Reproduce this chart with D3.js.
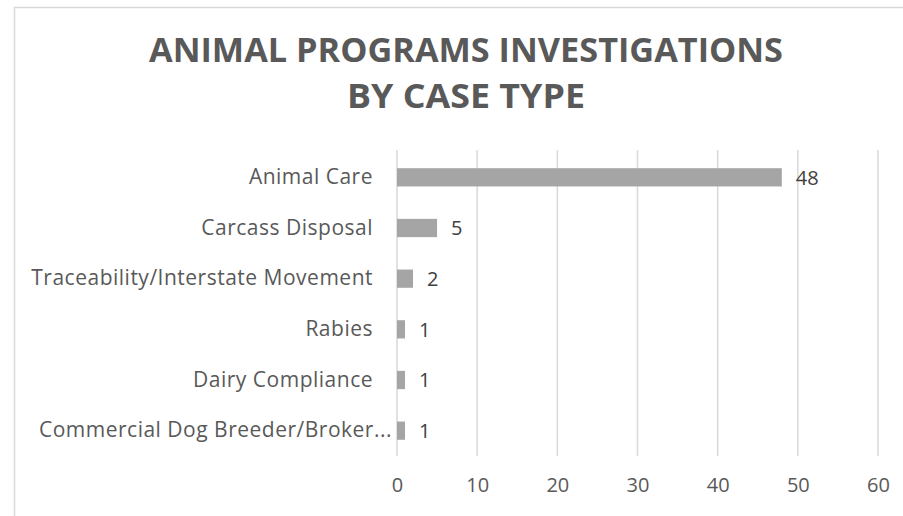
<!DOCTYPE html>
<html>
<head>
<meta charset="utf-8">
<script src="https://cdn.jsdelivr.net/npm/d3@7"></script>
<style>
  body { margin: 0; background: #fff; }
  svg { display: block; font-family: 'Open Sans', Roboto, sans-serif; }
</style>
</head>
<body>
<svg id="chart" width="903" height="516"></svg>
<script>
'use strict';

const categories = [
  'Animal Care',
  'Carcass Disposal',
  'Traceability/Interstate Movement',
  'Rabies',
  'Dairy Compliance',
  'Commercial Dog Breeder/Broker...',
];
const counts = [48, 5, 2, 1, 1, 1];
const xTicks = [0, 10, 20, 30, 40, 50, 60];
const titleLines = ['ANIMAL PROGRAMS INVESTIGATIONS', 'BY CASE TYPE'];

const svg = d3.select('#chart');

// chart area border (runs off the right/bottom edge)
svg.append('rect')
  .attr('x', 14.5).attr('y', 7.5)
  .attr('width', 1000).attr('height', 1000)
  .attr('fill', '#fff')
  .attr('stroke', '#d9d9d9')
  .attr('stroke-width', 1.5);

const plot = { left: 397, right: 878, top: 152, bottom: 456 };

const x = d3.scaleLinear()
  .domain([0, 60])
  .range([plot.left, plot.right]);

const y = d3.scaleBand()
  .domain(categories)
  .range([plot.top, plot.bottom])
  .paddingInner(0.64)
  .paddingOuter(0.32);

// title
const title = svg.append('g')
  .attr('fill', '#595959')
  .attr('font-weight', 700)
  .attr('font-size', 34)
  .attr('text-anchor', 'middle');

title.selectAll('text')
  .data(titleLines)
  .enter()
  .append('text')
  .attr('x', 466)
  .attr('y', (d, i) => 62 + i * 46)
  .attr('textLength', (d, i) => (i === 0 ? 634 : 238))
  .attr('lengthAdjust', 'spacingAndGlyphs')
  .text(d => d);

// vertical gridlines
svg.append('g')
  .selectAll('line')
  .data(xTicks)
  .enter()
  .append('line')
  .attr('x1', d => x(d))
  .attr('x2', d => x(d))
  .attr('y1', plot.top - 2)
  .attr('y2', plot.bottom)
  .attr('stroke', '#d9d9d9')
  .attr('stroke-width', 1.5);

// x axis labels
const xAxis = svg.append('g')
  .attr('transform', `translate(0, ${plot.bottom})`)
  .call(d3.axisBottom(x).tickValues(xTicks).tickSize(0).tickPadding(22));

xAxis.select('.domain').remove();
xAxis.selectAll('text')
  .attr('fill', '#595959')
  .attr('font-size', 20)
  .attr('font-family', "'Open Sans', Roboto, sans-serif");

// category labels
const yAxis = svg.append('g')
  .attr('transform', `translate(${plot.left}, 0)`)
  .call(d3.axisLeft(y).tickSize(0).tickPadding(24));

yAxis.select('.domain').remove();
yAxis.selectAll('text')
  .attr('fill', '#595959')
  .attr('font-size', 21)
  .attr('letter-spacing', 0.5)
  .attr('font-family', "'Open Sans', Roboto, sans-serif")
  .attr('dx', d => (d.endsWith('...') ? 19 : 0));

// bars
const rows = categories.map((c, i) => ({ cat: c, val: counts[i] }));

svg.append('g')
  .selectAll('rect')
  .data(rows)
  .enter()
  .append('rect')
  .attr('x', x(0))
  .attr('y', d => y(d.cat))
  .attr('width', d => x(d.val) - x(0))
  .attr('height', y.bandwidth())
  .attr('fill', '#a5a5a5');

// value labels
svg.append('g')
  .selectAll('text')
  .data(rows)
  .enter()
  .append('text')
  .attr('x', d => x(d.val) + 14)
  .attr('y', d => y(d.cat) + y.bandwidth() / 2)
  .attr('dy', '0.36em')
  .attr('fill', '#404040')
  .attr('font-size', 20)
  .text(d => d.val);
</script>
</body>
</html>
